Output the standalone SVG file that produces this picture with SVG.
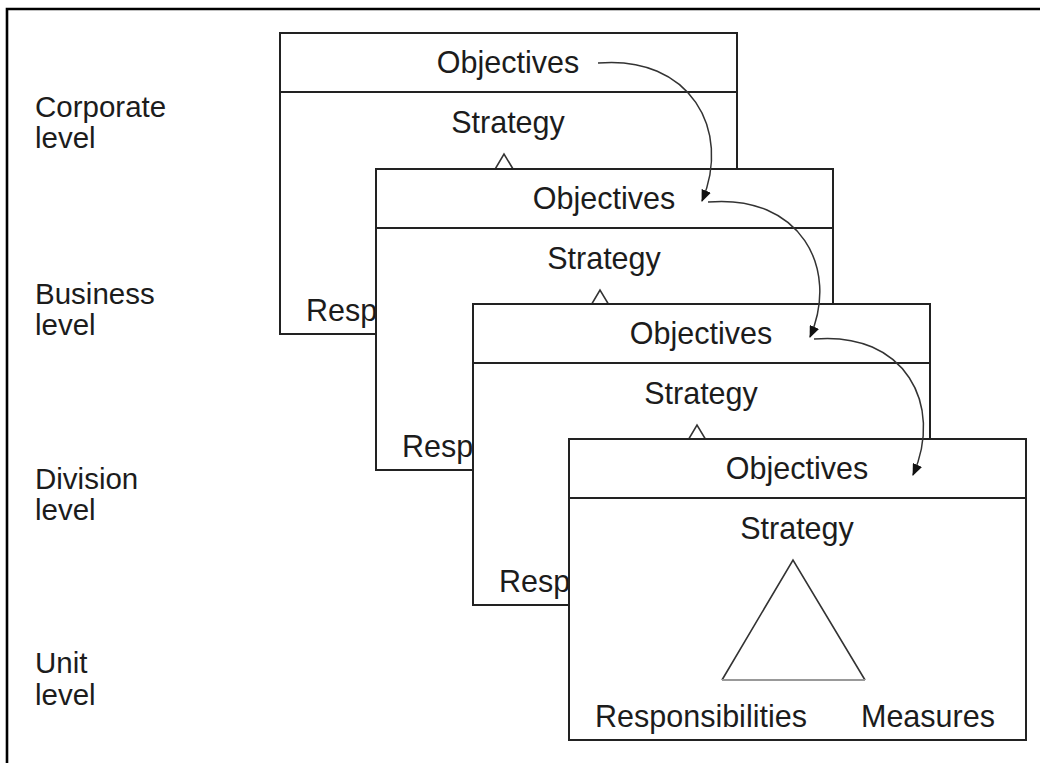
<svg xmlns="http://www.w3.org/2000/svg" width="1040" height="763" viewBox="0 0 1040 763">
  <defs>
    <style>
      .frame { fill: none; stroke: #000; stroke-width: 2.6; }
      .box { fill: #fff; stroke: #222; stroke-width: 2; }
      .rule { stroke: #222; stroke-width: 2; }
      .tri { fill: none; stroke: #333; stroke-width: 1.6; }
      .tri-base { stroke: #999; stroke-width: 2; }
      .t { font-family: "Liberation Sans", Arial, sans-serif; font-size: 30.5px; fill: #1c1c1c; }
      .mid { text-anchor: middle; }
      .level { font-family: "Liberation Sans", Arial, sans-serif; font-size: 29.5px; fill: #1c1c1c; }
      .link { fill: none; stroke: #333; stroke-width: 1.5; }
    </style>
    <marker id="head" viewBox="0 0 12 10" refX="11" refY="5" markerWidth="12" markerHeight="10" markerUnits="userSpaceOnUse" orient="auto">
      <path d="M0,0 L12,5 L0,10 Z" fill="#111"/>
    </marker>
    <!-- one planning level: header, strategy triangle and its corner labels -->
    <g id="level-card">
      <rect class="box" x="0" y="0" width="457" height="301"/>
      <line class="rule" x1="0" y1="59" x2="457" y2="59"/>
      <text class="t mid" x="228" y="40">Objectives</text>
      <text class="t mid" x="228" y="100">Strategy</text>
      <path class="tri" d="M153,241 L224,121 L296,241"/>
      <line class="tri-base" x1="153" y1="241" x2="296" y2="241"/>
      <text class="t" x="26" y="288">Responsibilities</text>
      <text class="t" x="292" y="288">Measures</text>
    </g>
  </defs>

  <rect x="0" y="0" width="1040" height="763" fill="#fff"/>
  <path class="frame" d="M7,780 V9 H1060"/>

  <g id="level-labels">
    <text class="level" x="35" y="117">Corporate<tspan x="35" dy="31">level</tspan></text>
    <text class="level" x="35" y="304">Business<tspan x="35" dy="31">level</tspan></text>
    <text class="level" x="35" y="489">Division<tspan x="35" dy="31">level</tspan></text>
    <text class="level" x="35" y="673">Unit<tspan x="35" dy="32">level</tspan></text>
  </g>

  <g id="corporate"><use href="#level-card" x="280" y="33"/></g>
  <g id="business"><use href="#level-card" x="376" y="169"/></g>
  <g id="division"><use href="#level-card" x="473" y="304"/></g>
  <g id="unit"><use href="#level-card" x="569" y="439"/></g>

  <g id="connectors">
    <path class="link" marker-end="url(#head)" d="M598,63 C690,55 732,130 702,201"/>
    <path class="link" marker-end="url(#head)" d="M708,202 C800,194 840,268 810,337"/>
    <path class="link" marker-end="url(#head)" d="M814,339 C905,331 944,405 913,475"/>
  </g>
</svg>
